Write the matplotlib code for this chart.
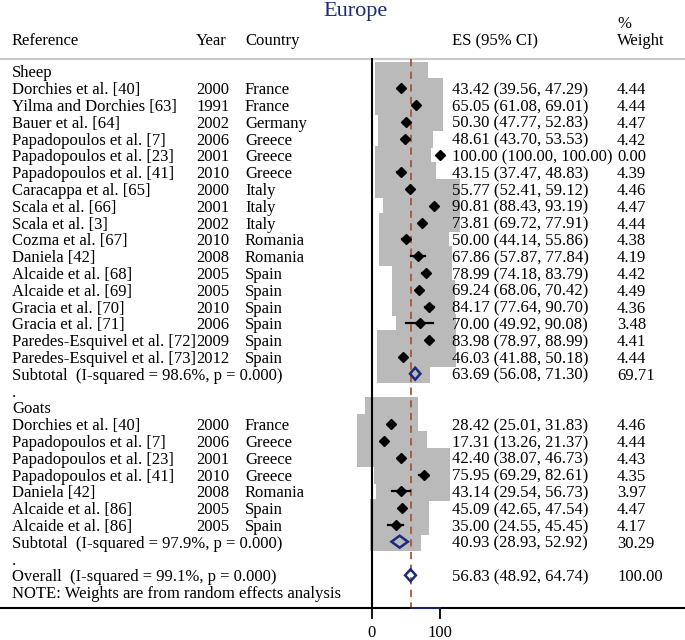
import matplotlib
matplotlib.use("Agg")
import matplotlib.pyplot as plt
import matplotlib.transforms as mtransforms
from matplotlib.patches import Rectangle, Polygon
import numpy as np

plt.rcParams['font.family'] = ['Liberation Serif', 'DejaVu Serif']

# Sheep studies
sheep_ref = ["Dorchies et al. [40]", "Yilma and Dorchies [63]", "Bauer et al. [64]",
             "Papadopoulos et al. [7]", "Papadopoulos et al. [23]", "Papadopoulos et al. [41]",
             "Caracappa et al. [65]", "Scala et al. [66]", "Scala et al. [3]", "Cozma et al. [67]",
             "Daniela [42]", "Alcaide et al. [68]", "Alcaide et al. [69]", "Gracia et al. [70]",
             "Gracia et al. [71]", "Paredes-Esquivel et al. [72]", "Paredes-Esquivel et al. [73]"]
sheep_year = [2000, 1991, 2002, 2006, 2001, 2010, 2000, 2001, 2002, 2010, 2008, 2005, 2005,
              2010, 2006, 2009, 2012]
sheep_country = ["France", "France", "Germany", "Greece", "Greece", "Greece", "Italy", "Italy",
                 "Italy", "Romania", "Romania", "Spain", "Spain", "Spain", "Spain", "Spain", "Spain"]
sheep_es = [43.42, 65.05, 50.30, 48.61, 100.00, 43.15, 55.77, 90.81, 73.81, 50.00, 67.86,
            78.99, 69.24, 84.17, 70.00, 83.98, 46.03]
sheep_lo = [39.56, 61.08, 47.77, 43.70, 100.00, 37.47, 52.41, 88.43, 69.72, 44.14, 57.87,
            74.18, 68.06, 77.64, 49.92, 78.97, 41.88]
sheep_hi = [47.29, 69.01, 52.83, 53.53, 100.00, 48.83, 59.12, 93.19, 77.91, 55.86, 77.84,
            83.79, 70.42, 90.70, 90.08, 88.99, 50.18]
sheep_w = [4.44, 4.44, 4.47, 4.42, 0.00, 4.39, 4.46, 4.47, 4.44, 4.38, 4.19, 4.42, 4.49,
           4.36, 3.48, 4.41, 4.44]
sheep_sub = (63.69, 56.08, 71.30, 69.71, "Subtotal  (I-squared = 98.6%, p = 0.000)")

# Goat studies
goat_ref = ["Dorchies et al. [40]", "Papadopoulos et al. [7]", "Papadopoulos et al. [23]",
            "Papadopoulos et al. [41]", "Daniela [42]", "Alcaide et al. [86]", "Alcaide et al. [86]"]
goat_year = [2000, 2006, 2001, 2010, 2008, 2005, 2005]
goat_country = ["France", "Greece", "Greece", "Greece", "Romania", "Spain", "Spain"]
goat_es = [28.42, 17.31, 42.40, 75.95, 43.14, 45.09, 35.00]
goat_lo = [25.01, 13.26, 38.07, 69.29, 29.54, 42.65, 24.55]
goat_hi = [31.83, 21.37, 46.73, 82.61, 56.73, 47.54, 45.45]
goat_w = [4.46, 4.44, 4.43, 4.35, 3.97, 4.47, 4.17]
goat_sub = (40.93, 28.93, 52.92, 30.29, "Subtotal  (I-squared = 97.9%, p = 0.000)")

overall = (56.83, 48.92, 64.74, 100.00, "Overall  (I-squared = 99.1%, p = 0.000)")

xticks = [0, 100]

# pixel geometry of the reference
W, H = 685, 640
x0_px, px_per_unit = 371.7, 0.683
row0_px, row_px = 71.3, 16.8
fs = 12

fig = plt.figure(figsize=(W / 100, H / 100), dpi=100)
ax = fig.add_axes([0, 0, 1, 1])
ax.set_xlim(-x0_px / px_per_unit, (W - x0_px) / px_per_unit)
ax.set_ylim((H - row0_px) / row_px, -row0_px / row_px)
ax.axis('off')

def prow(px):
    return (px - row0_px) / row_px

tr = mtransforms.blended_transform_factory(ax.transAxes, ax.transData)

def txt(xpx, row, s, **kw):
    kw.setdefault('fontsize', fs)
    ax.text(xpx / W, row, s, transform=tr, **kw)

navy = '#1c2a7a'
grey = '#bababa'
k_box = 25.2  # px per sqrt(weight)

def study_row(r, ref, year, country, es, lo, hi, w):
    if w > 0:
        side = k_box * np.sqrt(w)
        wd, ht = side / px_per_unit, side / row_px
        ax.add_patch(Rectangle((es - wd / 2, r - ht / 2), wd, ht, color=grey, lw=0, zorder=1))
    ax.plot([lo, hi], [r, r], color='black', lw=1.6, zorder=3)
    ax.plot(es, r, marker='D', ms=4.6, color='black', zorder=4)
    base = r + 0.36
    txt(12, base, ref, va='baseline')
    txt(196, base, str(year), va='baseline')
    txt(245, base, country, va='baseline')
    txt(452, base, f"{es:.2f} ({lo:.2f}, {hi:.2f})", va='baseline')
    txt(617, base, f"{w:.2f}", va='baseline')

def pooled_row(r, es, lo, hi, w, label):
    hh = 6 / row_px
    ax.add_patch(Polygon([[lo, r], [es, r - hh], [hi, r], [es, r + hh]], closed=True,
                         fill=False, edgecolor=navy, lw=1.8, zorder=5))
    base = r + 0.36
    txt(12, base, label, va='baseline')
    txt(452, base, f"{es:.2f} ({lo:.2f}, {hi:.2f})", va='baseline')
    txt(617, base, f"{w:.2f}", va='baseline')

# headers
txt(355, prow(11), "Europe", ha='center', va='center', color=navy, fontsize=16)
txt(617, prow(24), "%", va='center')
for xp, s in [(12, "Reference"), (196, "Year"), (245, "Country"), (452, "ES (95% CI)"), (617, "Weight")]:
    txt(xp, prow(45), s, va='baseline')
ax.plot([0, 1], [prow(58.5)] * 2, transform=tr, color='#c8c8c8', lw=1.5, zorder=2)

r = 0
txt(12, r + 0.36, "Sheep", va='baseline')
for i in range(len(sheep_ref)):
    r += 1
    study_row(r, sheep_ref[i], sheep_year[i], sheep_country[i], sheep_es[i], sheep_lo[i],
              sheep_hi[i], sheep_w[i])
r += 1
pooled_row(r, *sheep_sub)
r += 1
txt(12, r + 0.36, ".", va='baseline')
r += 1
txt(12, r + 0.36, "Goats", va='baseline')
for i in range(len(goat_ref)):
    r += 1
    study_row(r, goat_ref[i], goat_year[i], goat_country[i], goat_es[i], goat_lo[i],
              goat_hi[i], goat_w[i])
r += 1
pooled_row(r, *goat_sub)
r += 1
txt(12, r + 0.36, ".", va='baseline')
r += 1
pooled_row(r, *overall)
r += 1
txt(12, r + 0.36, "NOTE: Weights are from random effects analysis", va='baseline')

# axes lines
y_top, y_axis = prow(58.5), prow(608)
ax.plot([0, 0], [y_top, y_axis], color='black', lw=1.5, zorder=6)
ax.plot([overall[0]] * 2, [y_top, y_axis], color='#a8553a', lw=1.3, ls=(0, (4, 3)), zorder=2)
ax.plot([0, 1], [y_axis, y_axis], transform=tr, color='black', lw=1.5, zorder=6)
ax.plot([overall[0], 100], [y_axis, y_axis], color=navy, lw=1.2, zorder=7)
for t in xticks:
    ax.plot([t, t], [y_axis, prow(618)], color='black', lw=1.3)
    ax.text(t, prow(633), str(t), ha='center', va='center', fontsize=fs)

fig.savefig("out.png", dpi=100)
